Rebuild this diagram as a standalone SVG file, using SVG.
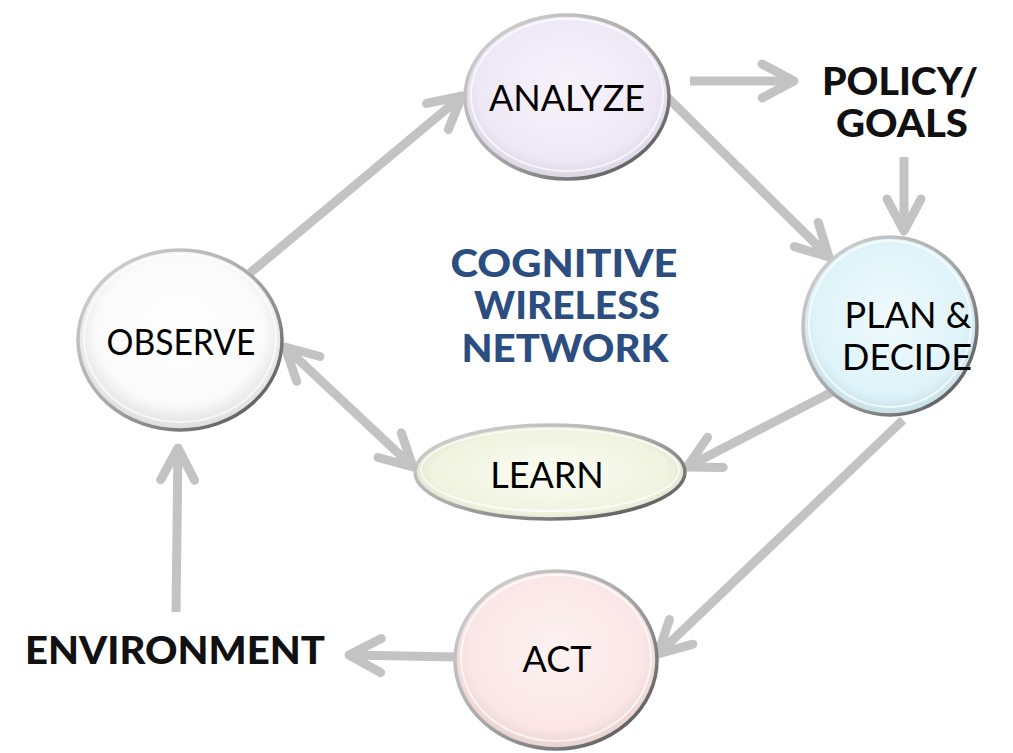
<svg xmlns="http://www.w3.org/2000/svg" width="1013" height="753" viewBox="0 0 1013 753">
<defs>
<style>
.conn line, .conn path{stroke:#c3c3c3;stroke-width:9;fill:none;stroke-linecap:butt}
.rim{stroke:url(#rimG);stroke-width:3.5}
.hl{fill:none;stroke:#ffffff;stroke-opacity:0.7;stroke-width:2}
.lbl{font-family:Lato,"Liberation Sans",sans-serif;font-size:36px;fill:#000;text-anchor:middle}
.bold{font-family:Lato,"Liberation Sans",sans-serif;font-weight:900;font-size:37px;fill:#111;text-anchor:middle}
.blue{font-family:Lato,"Liberation Sans",sans-serif;font-weight:900;font-size:37px;fill:#2b4d80;text-anchor:middle}
</style>
<marker id="ah" markerUnits="userSpaceOnUse" orient="auto-start-reverse" refX="0" refY="0" markerWidth="60" markerHeight="60" overflow="visible">
<path d="M -32,-17 L 0,0 L -32,17" fill="none" stroke="#c3c3c3" stroke-width="9" stroke-linecap="round" stroke-linejoin="round"/>
</marker>
<linearGradient id="rimG" x1="0" y1="0" x2="1" y2="1">
<stop offset="0" stop-color="#d8d8d8"/>
<stop offset="0.5" stop-color="#a8a8a8"/>
<stop offset="1" stop-color="#4a4a4a"/>
</linearGradient>
<radialGradient id="gA" cx="0.5" cy="0.45" r="0.55"><stop offset="0" stop-color="#f7f3fb"/><stop offset="0.8" stop-color="#eee8f6"/><stop offset="1" stop-color="#d9d3e2"/></radialGradient>
<radialGradient id="gP" cx="0.5" cy="0.45" r="0.55"><stop offset="0" stop-color="#effafd"/><stop offset="0.8" stop-color="#def3f9"/><stop offset="1" stop-color="#c6dde4"/></radialGradient>
<radialGradient id="gO" cx="0.5" cy="0.45" r="0.55"><stop offset="0" stop-color="#ffffff"/><stop offset="0.75" stop-color="#fafafa"/><stop offset="1" stop-color="#dcdcdc"/></radialGradient>
<radialGradient id="gL" cx="0.5" cy="0.5" r="0.55"><stop offset="0" stop-color="#fbfcf3"/><stop offset="0.8" stop-color="#f0f3df"/><stop offset="1" stop-color="#d8dcc4"/></radialGradient>
<radialGradient id="gC" cx="0.5" cy="0.45" r="0.55"><stop offset="0" stop-color="#fdf2f2"/><stop offset="0.8" stop-color="#fbe6e6"/><stop offset="1" stop-color="#e6cfcf"/></radialGradient>
</defs>
<rect width="1013" height="753" fill="#ffffff"/>
<g class="conn" id="connectors">
<line x1="250" y1="273" x2="462" y2="96" marker-end="url(#ah)"/>
<line x1="690" y1="81" x2="794" y2="81" marker-end="url(#ah)"/>
<line x1="667" y1="97" x2="829" y2="257" marker-end="url(#ah)"/>
<line x1="904" y1="157" x2="904" y2="231" marker-end="url(#ah)"/>
<line x1="832" y1="392" x2="687" y2="467" marker-end="url(#ah)"/>
<line x1="285" y1="347" x2="413" y2="467" marker-start="url(#ah)" marker-end="url(#ah)"/>
<line x1="903" y1="420" x2="658" y2="654" marker-end="url(#ah)"/>
<line x1="457" y1="657" x2="349" y2="655" marker-end="url(#ah)"/>
<line x1="176" y1="612" x2="178" y2="448" marker-end="url(#ah)"/>
</g>
<g id="analyze">
<ellipse cx="567" cy="97" rx="102" ry="82" fill="url(#gA)" class="rim"/>
<ellipse cx="567" cy="95" rx="96" ry="76" class="hl"/>
<text x="567" y="111" class="lbl">ANALYZE</text>
</g>
<g id="plan">
<ellipse cx="890" cy="326" rx="87" ry="89" fill="url(#gP)" class="rim"/>
<ellipse cx="890" cy="324" rx="81" ry="83" class="hl"/>
<text x="908" y="328" class="lbl">PLAN &amp;</text>
<text x="907" y="370" class="lbl">DECIDE</text>
</g>
<g id="observe">
<ellipse cx="180" cy="340" rx="102" ry="90" fill="url(#gO)" class="rim"/>
<ellipse cx="180" cy="338" rx="96" ry="84" class="hl"/>
<text x="181" y="355" class="lbl" textLength="149" lengthAdjust="spacingAndGlyphs">OBSERVE</text>
</g>
<g id="learn">
<ellipse cx="550" cy="472" rx="135" ry="47" fill="url(#gL)" class="rim"/>
<ellipse cx="550" cy="470" rx="129" ry="41" class="hl"/>
<text x="547" y="488" class="lbl">LEARN</text>
</g>
<g id="act">
<ellipse cx="556" cy="660" rx="101" ry="89" fill="url(#gC)" class="rim"/>
<ellipse cx="556" cy="658" rx="95" ry="83" class="hl"/>
<text x="557" y="672" class="lbl">ACT</text>
</g>
<g id="policy">
<text x="900" y="95" class="bold" textLength="156" lengthAdjust="spacingAndGlyphs">POLICY/</text>
<text x="902" y="137" class="bold" textLength="132" lengthAdjust="spacingAndGlyphs">GOALS</text>
</g>
<g id="environment">
<text x="175" y="664" class="bold" textLength="300" lengthAdjust="spacingAndGlyphs">ENVIRONMENT</text>
</g>
<g id="title">
<text x="564" y="277" class="blue" textLength="227" lengthAdjust="spacingAndGlyphs">COGNITIVE</text>
<text x="567" y="319" class="blue" textLength="186" lengthAdjust="spacingAndGlyphs">WIRELESS</text>
<text x="565" y="362" class="blue" textLength="207" lengthAdjust="spacingAndGlyphs">NETWORK</text>
</g>
</svg>
